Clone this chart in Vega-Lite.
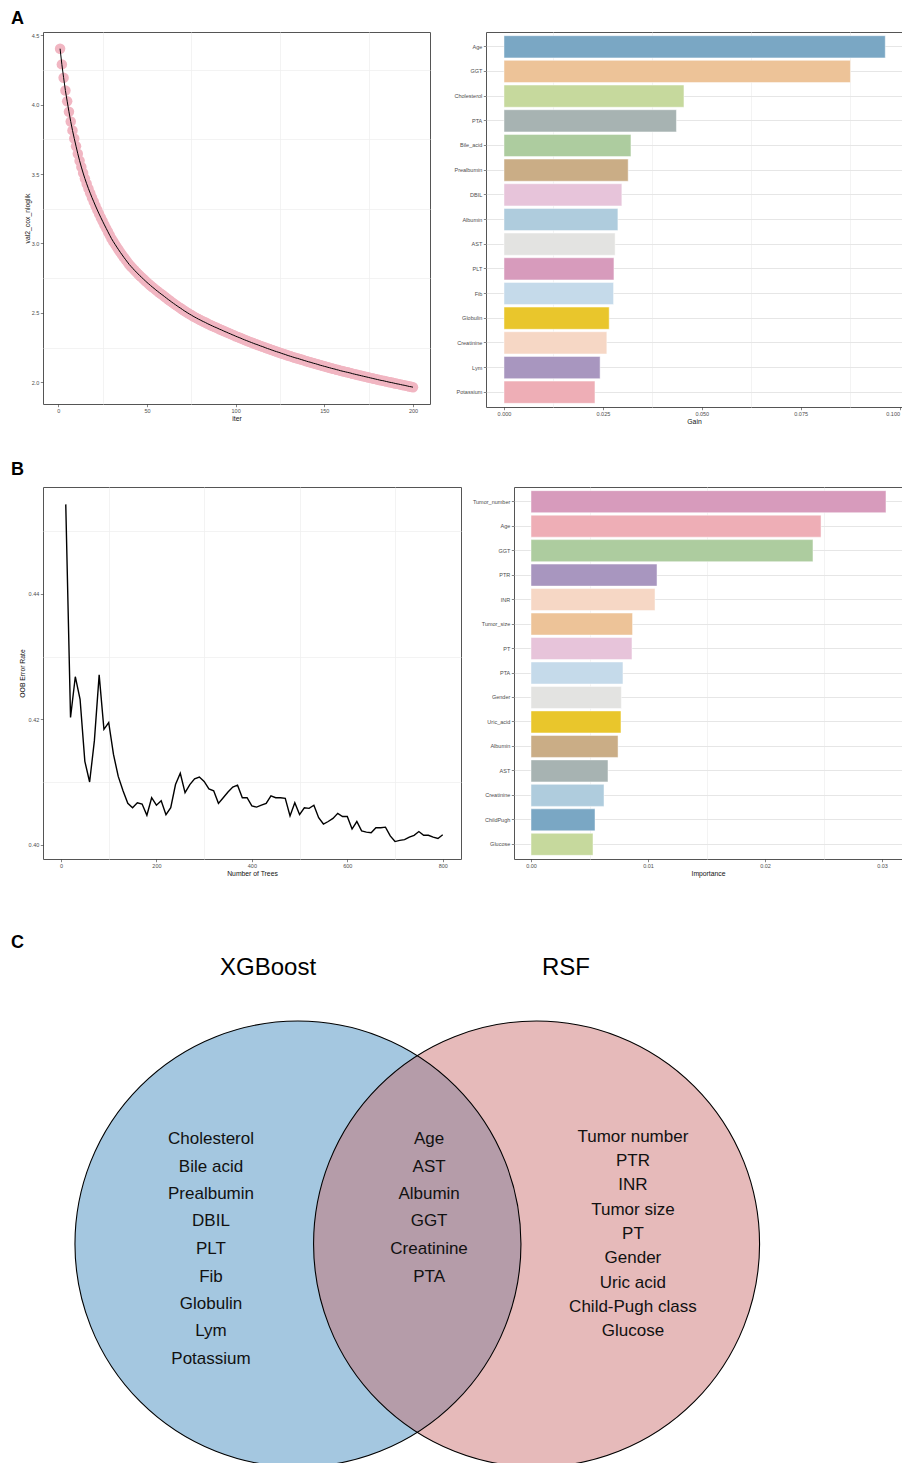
{
  "$schema": "https://vega.github.io/schema/vega-lite/v6.json",
  "background": "white",
  "autosize": {"type": "pad"},
  "padding": {"left": 10, "top": 9, "right": 0, "bottom": 0},
  "config": {
    "font": "Liberation Sans",
    "view": {"stroke": "#555555", "strokeWidth": 1},
    "axis": {"labelFont": "Liberation Sans", "labelFontSize": 5.5, "labelColor": "#4D4D4D", "titleFont": "Liberation Sans", "titleFontSize": 6.8, "titleFontWeight": "normal", "titleColor": "#111111", "tickColor": "#333333", "tickSize": 2.7, "tickWidth": 0.6, "domain": false, "grid": true, "gridColor": "#E6E6E6", "gridWidth": 1, "labelPadding": 1.5, "titlePadding": 1.5},
    "title": {"font": "Liberation Sans", "fontSize": 18, "fontWeight": "bold", "anchor": "start", "frame": "group", "color": "#000000", "offset": 4},
    "text": {"font": "Liberation Sans"}
  },
  "datasets": {
    "xgb_iter": [
      {"iter":1,"loss":4.402},{"iter":2,"loss":4.289},{"iter":3,"loss":4.193},{"iter":4,"loss":4.101},{"iter":5,"loss":4.024},
      {"iter":6,"loss":3.948},{"iter":7,"loss":3.878},{"iter":8,"loss":3.814},{"iter":9,"loss":3.756},{"iter":10,"loss":3.700},
      {"iter":11,"loss":3.646},{"iter":12,"loss":3.596},{"iter":13,"loss":3.550},{"iter":14,"loss":3.507},{"iter":15,"loss":3.467},
      {"iter":16,"loss":3.430},{"iter":17,"loss":3.395},{"iter":18,"loss":3.362},{"iter":19,"loss":3.330},{"iter":20,"loss":3.300},
      {"iter":21,"loss":3.270},{"iter":22,"loss":3.241},{"iter":23,"loss":3.213},{"iter":24,"loss":3.186},{"iter":25,"loss":3.160},
      {"iter":26,"loss":3.134},{"iter":27,"loss":3.109},{"iter":28,"loss":3.084},{"iter":29,"loss":3.059},{"iter":30,"loss":3.035},
      {"iter":31,"loss":3.014},{"iter":32,"loss":2.994},{"iter":33,"loss":2.974},{"iter":34,"loss":2.955},{"iter":35,"loss":2.936},
      {"iter":36,"loss":2.918},{"iter":37,"loss":2.900},{"iter":38,"loss":2.883},{"iter":39,"loss":2.866},{"iter":40,"loss":2.849},
      {"iter":41,"loss":2.835},{"iter":42,"loss":2.821},{"iter":43,"loss":2.807},{"iter":44,"loss":2.794},{"iter":45,"loss":2.781},
      {"iter":46,"loss":2.768},{"iter":47,"loss":2.756},{"iter":48,"loss":2.744},{"iter":49,"loss":2.732},{"iter":50,"loss":2.720},
      {"iter":51,"loss":2.709},{"iter":52,"loss":2.698},{"iter":53,"loss":2.687},{"iter":54,"loss":2.677},{"iter":55,"loss":2.666},
      {"iter":56,"loss":2.656},{"iter":57,"loss":2.646},{"iter":58,"loss":2.636},{"iter":59,"loss":2.627},{"iter":60,"loss":2.617},
      {"iter":61,"loss":2.607},{"iter":62,"loss":2.597},{"iter":63,"loss":2.588},{"iter":64,"loss":2.578},{"iter":65,"loss":2.569},
      {"iter":66,"loss":2.560},{"iter":67,"loss":2.551},{"iter":68,"loss":2.542},{"iter":69,"loss":2.534},{"iter":70,"loss":2.525},
      {"iter":71,"loss":2.516},{"iter":72,"loss":2.508},{"iter":73,"loss":2.500},{"iter":74,"loss":2.492},{"iter":75,"loss":2.485},
      {"iter":76,"loss":2.477},{"iter":77,"loss":2.470},{"iter":78,"loss":2.463},{"iter":79,"loss":2.456},{"iter":80,"loss":2.450},
      {"iter":81,"loss":2.443},{"iter":82,"loss":2.437},{"iter":83,"loss":2.431},{"iter":84,"loss":2.424},{"iter":85,"loss":2.418},
      {"iter":86,"loss":2.412},{"iter":87,"loss":2.406},{"iter":88,"loss":2.400},{"iter":89,"loss":2.395},{"iter":90,"loss":2.389},
      {"iter":91,"loss":2.383},{"iter":92,"loss":2.378},{"iter":93,"loss":2.372},{"iter":94,"loss":2.366},{"iter":95,"loss":2.361},
      {"iter":96,"loss":2.355},{"iter":97,"loss":2.350},{"iter":98,"loss":2.344},{"iter":99,"loss":2.339},{"iter":100,"loss":2.333},
      {"iter":101,"loss":2.328},{"iter":102,"loss":2.323},{"iter":103,"loss":2.318},{"iter":104,"loss":2.312},{"iter":105,"loss":2.307},
      {"iter":106,"loss":2.302},{"iter":107,"loss":2.297},{"iter":108,"loss":2.292},{"iter":109,"loss":2.287},{"iter":110,"loss":2.282},
      {"iter":111,"loss":2.277},{"iter":112,"loss":2.273},{"iter":113,"loss":2.268},{"iter":114,"loss":2.263},{"iter":115,"loss":2.259},
      {"iter":116,"loss":2.254},{"iter":117,"loss":2.249},{"iter":118,"loss":2.244},{"iter":119,"loss":2.240},{"iter":120,"loss":2.235},
      {"iter":121,"loss":2.231},{"iter":122,"loss":2.226},{"iter":123,"loss":2.222},{"iter":124,"loss":2.218},{"iter":125,"loss":2.214},
      {"iter":126,"loss":2.209},{"iter":127,"loss":2.205},{"iter":128,"loss":2.201},{"iter":129,"loss":2.196},{"iter":130,"loss":2.192},
      {"iter":131,"loss":2.188},{"iter":132,"loss":2.184},{"iter":133,"loss":2.180},{"iter":134,"loss":2.176},{"iter":135,"loss":2.173},
      {"iter":136,"loss":2.169},{"iter":137,"loss":2.165},{"iter":138,"loss":2.161},{"iter":139,"loss":2.157},{"iter":140,"loss":2.153},
      {"iter":141,"loss":2.149},{"iter":142,"loss":2.146},{"iter":143,"loss":2.142},{"iter":144,"loss":2.138},{"iter":145,"loss":2.135},
      {"iter":146,"loss":2.131},{"iter":147,"loss":2.127},{"iter":148,"loss":2.123},{"iter":149,"loss":2.120},{"iter":150,"loss":2.116},
      {"iter":151,"loss":2.113},{"iter":152,"loss":2.109},{"iter":153,"loss":2.106},{"iter":154,"loss":2.102},{"iter":155,"loss":2.099},
      {"iter":156,"loss":2.096},{"iter":157,"loss":2.092},{"iter":158,"loss":2.089},{"iter":159,"loss":2.085},{"iter":160,"loss":2.082},
      {"iter":161,"loss":2.079},{"iter":162,"loss":2.076},{"iter":163,"loss":2.073},{"iter":164,"loss":2.070},{"iter":165,"loss":2.067},
      {"iter":166,"loss":2.063},{"iter":167,"loss":2.060},{"iter":168,"loss":2.057},{"iter":169,"loss":2.054},{"iter":170,"loss":2.051},
      {"iter":171,"loss":2.048},{"iter":172,"loss":2.045},{"iter":173,"loss":2.042},{"iter":174,"loss":2.039},{"iter":175,"loss":2.036},
      {"iter":176,"loss":2.033},{"iter":177,"loss":2.030},{"iter":178,"loss":2.027},{"iter":179,"loss":2.024},{"iter":180,"loss":2.021},
      {"iter":181,"loss":2.018},{"iter":182,"loss":2.015},{"iter":183,"loss":2.013},{"iter":184,"loss":2.010},{"iter":185,"loss":2.007},
      {"iter":186,"loss":2.004},{"iter":187,"loss":2.001},{"iter":188,"loss":1.999},{"iter":189,"loss":1.996},{"iter":190,"loss":1.993},
      {"iter":191,"loss":1.990},{"iter":192,"loss":1.988},{"iter":193,"loss":1.985},{"iter":194,"loss":1.982},{"iter":195,"loss":1.980},
      {"iter":196,"loss":1.977},{"iter":197,"loss":1.974},{"iter":198,"loss":1.971},{"iter":199,"loss":1.969},{"iter":200,"loss":1.966}
    ],
    "xgb_gain": [
      {"var":"Age","gain":0.0964},{"var":"GGT","gain":0.0876},{"var":"Cholesterol","gain":0.0455},{"var":"PTA","gain":0.0436},
      {"var":"Bile_acid","gain":0.0321},{"var":"Prealbumin","gain":0.0314},{"var":"DBIL","gain":0.0298},{"var":"Albumin","gain":0.0288},
      {"var":"AST","gain":0.0281},{"var":"PLT","gain":0.0278},{"var":"Fib","gain":0.0277},{"var":"Globulin","gain":0.0266},
      {"var":"Creatinine","gain":0.0260},{"var":"Lym","gain":0.0243},{"var":"Potassium","gain":0.0230}
    ],
    "oob": [
      {"trees":10,"err":0.4543},{"trees":20,"err":0.4203},{"trees":30,"err":0.4268},{"trees":40,"err":0.4232},{"trees":50,"err":0.4133},
      {"trees":60,"err":0.4100},{"trees":70,"err":0.4166},{"trees":80,"err":0.4271},{"trees":90,"err":0.4184},{"trees":100,"err":0.4195},
      {"trees":110,"err":0.4144},{"trees":120,"err":0.4109},{"trees":130,"err":0.4086},{"trees":140,"err":0.4066},{"trees":150,"err":0.4059},
      {"trees":160,"err":0.4067},{"trees":170,"err":0.4065},{"trees":180,"err":0.4047},{"trees":190,"err":0.4075},{"trees":200,"err":0.4063},
      {"trees":210,"err":0.4070},{"trees":220,"err":0.4048},{"trees":230,"err":0.4059},{"trees":240,"err":0.4096},{"trees":250,"err":0.4114},
      {"trees":260,"err":0.4083},{"trees":270,"err":0.4096},{"trees":280,"err":0.4105},{"trees":290,"err":0.4108},{"trees":300,"err":0.4101},
      {"trees":310,"err":0.4089},{"trees":320,"err":0.4086},{"trees":330,"err":0.4066},{"trees":340,"err":0.4075},{"trees":350,"err":0.4084},
      {"trees":360,"err":0.4092},{"trees":370,"err":0.4095},{"trees":380,"err":0.4075},{"trees":390,"err":0.4075},{"trees":400,"err":0.4062},
      {"trees":410,"err":0.4060},{"trees":420,"err":0.4063},{"trees":430,"err":0.4066},{"trees":440,"err":0.4078},{"trees":450,"err":0.4075},
      {"trees":460,"err":0.4075},{"trees":470,"err":0.4074},{"trees":480,"err":0.4046},{"trees":490,"err":0.4067},{"trees":500,"err":0.4048},
      {"trees":510,"err":0.4059},{"trees":520,"err":0.4058},{"trees":530,"err":0.4063},{"trees":540,"err":0.4043},{"trees":550,"err":0.4033},
      {"trees":560,"err":0.4037},{"trees":570,"err":0.4042},{"trees":580,"err":0.4050},{"trees":590,"err":0.4045},{"trees":600,"err":0.4045},
      {"trees":610,"err":0.4025},{"trees":620,"err":0.4037},{"trees":630,"err":0.4022},{"trees":640,"err":0.4020},{"trees":650,"err":0.4019},
      {"trees":660,"err":0.4027},{"trees":670,"err":0.4027},{"trees":680,"err":0.4028},{"trees":690,"err":0.4014},{"trees":700,"err":0.4005},
      {"trees":710,"err":0.4007},{"trees":720,"err":0.4008},{"trees":730,"err":0.4012},{"trees":740,"err":0.4015},{"trees":750,"err":0.4021},
      {"trees":760,"err":0.4015},{"trees":770,"err":0.4015},{"trees":780,"err":0.4012},{"trees":790,"err":0.4010},{"trees":800,"err":0.4016}
    ],
    "rsf_imp": [
      {"var":"Tumor_number","imp":0.03034},{"var":"Age","imp":0.02479},{"var":"GGT","imp":0.02410},{"var":"PTR","imp":0.01077},
      {"var":"INR","imp":0.01060},{"var":"Tumor_size","imp":0.00868},{"var":"PT","imp":0.00863},{"var":"PTA","imp":0.00786},
      {"var":"Gender","imp":0.00772},{"var":"Uric_acid","imp":0.00769},{"var":"Albumin","imp":0.00744},{"var":"AST","imp":0.00658},
      {"var":"Creatinine","imp":0.00624},{"var":"ChildPugh","imp":0.00547},{"var":"Glucose","imp":0.00530}
    ],
    "venn_sets": [
      {"set":"XGBoost","cx":-0.535,"cy":0},
      {"set":"RSF","cx":0.535,"cy":0}
    ],
    "venn_titles": [
      {"label":"XGBoost","u":-0.669,"v":1.238},
      {"label":"RSF","u":0.667,"v":1.238}
    ],
    "venn_items": [
      {"region":"XGBoost only","label":"Cholesterol","u":-0.925,"v":0.471},
      {"region":"XGBoost only","label":"Bile acid","u":-0.925,"v":0.3475},
      {"region":"XGBoost only","label":"Prealbumin","u":-0.925,"v":0.224},
      {"region":"XGBoost only","label":"DBIL","u":-0.925,"v":0.101},
      {"region":"XGBoost only","label":"PLT","u":-0.925,"v":-0.022},
      {"region":"XGBoost only","label":"Fib","u":-0.925,"v":-0.146},
      {"region":"XGBoost only","label":"Globulin","u":-0.925,"v":-0.269},
      {"region":"XGBoost only","label":"Lym","u":-0.925,"v":-0.392},
      {"region":"XGBoost only","label":"Potassium","u":-0.925,"v":-0.516},
      {"region":"Both","label":"Age","u":0.053,"v":0.471},
      {"region":"Both","label":"AST","u":0.053,"v":0.3475},
      {"region":"Both","label":"Albumin","u":0.053,"v":0.224},
      {"region":"Both","label":"GGT","u":0.053,"v":0.101},
      {"region":"Both","label":"Creatinine","u":0.053,"v":-0.022},
      {"region":"Both","label":"PTA","u":0.053,"v":-0.146},
      {"region":"RSF only","label":"Tumor number","u":0.967,"v":0.480},
      {"region":"RSF only","label":"PTR","u":0.967,"v":0.372},
      {"region":"RSF only","label":"INR","u":0.967,"v":0.265},
      {"region":"RSF only","label":"Tumor size","u":0.967,"v":0.152},
      {"region":"RSF only","label":"PT","u":0.967,"v":0.045},
      {"region":"RSF only","label":"Gender","u":0.967,"v":-0.063},
      {"region":"RSF only","label":"Uric acid","u":0.967,"v":-0.175},
      {"region":"RSF only","label":"Child-Pugh class","u":0.967,"v":-0.283},
      {"region":"RSF only","label":"Glucose","u":0.967,"v":-0.390}
    ]
  },
  "bounds": "flush",
  "spacing": 926,
  "resolve": {"scale": {"color": "independent"}},
  "vconcat": [
    {
      "bounds": "flush",
      "spacing": 455,
      "resolve": {"scale": {"color": "independent"}},
      "vconcat": [
        {
          "bounds": "flush",
          "spacing": 56,
          "resolve": {"scale": {"color": "independent"}},
          "hconcat": [
            {
              "title": {"text": "A", "dx": -32, "offset": 4},
              "width": 387,
              "height": 372,
              "data": {"name": "xgb_iter"},
              "resolve": {"axis": {"x": "independent", "y": "independent"}},
              "layer": [
                {
                  "mark": {"type": "point", "filled": true, "shape": "circle", "size": 110, "color": "#F1B6C2", "opacity": 1, "strokeWidth": 0},
                  "encoding": {
                    "x": {"field": "iter", "type": "quantitative", "scale": {"domain": [-8.63, 209.6], "nice": false, "zero": false},
                      "axis": {"orient": "bottom", "values": [25, 75, 125, 175], "labels": false, "ticks": false, "title": null, "gridColor": "#EEEEEE", "gridWidth": 0.7}},
                    "y": {"field": "loss", "type": "quantitative", "scale": {"domain": [1.845, 4.522], "nice": false, "zero": false},
                      "axis": {"orient": "left", "values": [2.25, 2.75, 3.25, 3.75, 4.25], "labels": false, "ticks": false, "title": null, "gridColor": "#EEEEEE", "gridWidth": 0.7}}
                  }
                },
                {
                  "mark": {"type": "line", "color": "#000000", "strokeWidth": 1},
                  "encoding": {
                    "x": {"field": "iter", "type": "quantitative", "scale": {"domain": [-8.63, 209.6], "nice": false, "zero": false},
                      "axis": {"orient": "bottom", "values": [0, 50, 100, 150, 200], "title": "iter"}},
                    "y": {"field": "loss", "type": "quantitative", "scale": {"domain": [1.845, 4.522], "nice": false, "zero": false},
                      "axis": {"orient": "left", "values": [2, 2.5, 3, 3.5, 4, 4.5], "format": ".1f", "title": "val2_cox_nloglik", "titlePadding": 0.5}}
                  }
                }
              ]
            },
            {
              "width": 416,
              "height": 375,
              "data": {"name": "xgb_gain"},
              "resolve": {"axis": {"x": "independent"}},
              "layer": [
                {
                  "mark": {"type": "bar", "opacity": 0},
                  "encoding": {
                    "y": {"field": "var", "type": "nominal", "sort": null, "scale": {"paddingInner": 0.1, "paddingOuter": 0.15},
                      "axis": {"orient": "left", "title": null, "bandPosition": 0.5, "grid": true}},
                    "x": {"field": "gain", "type": "quantitative", "scale": {"domain": [-0.00455, 0.10063], "nice": false, "zero": false},
                      "axis": {"orient": "bottom", "values": [0.0125, 0.0375, 0.0625, 0.0875], "labels": false, "ticks": false, "title": null, "gridColor": "#EEEEEE", "gridWidth": 0.7}}
                  }
                },
                {
                  "mark": {"type": "bar", "stroke": "#FFFFFF", "strokeWidth": 0.8, "strokeOpacity": 0.6},
                  "encoding": {
                    "y": {"field": "var", "type": "nominal", "sort": null, "scale": {"paddingInner": 0.1, "paddingOuter": 0.15},
                      "axis": {"orient": "left", "title": null, "bandPosition": 0.5, "grid": true}},
                    "x": {"field": "gain", "type": "quantitative", "scale": {"domain": [-0.00455, 0.10063], "nice": false, "zero": false},
                      "axis": {"orient": "bottom", "values": [0, 0.025, 0.05, 0.075, 0.1], "format": ".3f", "title": "Gain",
                        "labelAlign": {"condition": {"test": "datum.value > 0.09", "value": "right"}, "value": "center"}}},
                    "color": {"field": "var", "type": "nominal", "legend": null,
                      "scale": {"domain": ["Age","GGT","Cholesterol","PTA","Bile_acid","Prealbumin","DBIL","Albumin","AST","PLT","Fib","Globulin","Creatinine","Lym","Potassium"],
                        "range": ["#7AA7C4","#EDC398","#C6D99D","#A7B3B2","#ADCC9F","#CAAD86","#E7C4DA","#AFCCDD","#E3E3E1","#D79BBC","#C5DAEA","#E9C62C","#F6D7C5","#A896BF","#EEAEB6"]}}
                  }
                }
              ]
            }
          ]
        },
        {
          "bounds": "flush",
          "spacing": 53,
          "resolve": {"scale": {"color": "independent"}},
          "hconcat": [
            {
              "title": {"text": "B", "dx": -32, "offset": 8},
              "width": 418,
              "height": 372,
              "data": {"name": "oob"},
              "resolve": {"axis": {"x": "independent", "y": "independent"}},
              "layer": [
                {
                  "mark": {"type": "line", "strokeOpacity": 0},
                  "encoding": {
                    "x": {"field": "trees", "type": "quantitative", "scale": {"domain": [-37.7, 838.3], "nice": false, "zero": false},
                      "axis": {"orient": "bottom", "values": [100, 300, 500, 700], "labels": false, "ticks": false, "title": null, "gridColor": "#EEEEEE", "gridWidth": 0.7}},
                    "y": {"field": "err", "type": "quantitative", "scale": {"domain": [0.39772, 0.45707], "nice": false, "zero": false},
                      "axis": {"orient": "left", "values": [0.41, 0.43, 0.45], "labels": false, "ticks": false, "title": null, "gridColor": "#EEEEEE", "gridWidth": 0.7}}
                  }
                },
                {
                  "mark": {"type": "line", "color": "#000000", "strokeWidth": 1.4},
                  "encoding": {
                    "x": {"field": "trees", "type": "quantitative", "scale": {"domain": [-37.7, 838.3], "nice": false, "zero": false},
                      "axis": {"orient": "bottom", "values": [0, 200, 400, 600, 800], "title": "Number of Trees"}},
                    "y": {"field": "err", "type": "quantitative", "scale": {"domain": [0.39772, 0.45707], "nice": false, "zero": false},
                      "axis": {"orient": "left", "values": [0.40, 0.42, 0.44], "format": ".2f", "title": "OOB Error Rate", "titlePadding": 3}}
                  }
                }
              ]
            },
            {
              "width": 388,
              "height": 372,
              "data": {"name": "rsf_imp"},
              "resolve": {"axis": {"x": "independent"}},
              "layer": [
                {
                  "mark": {"type": "bar", "opacity": 0},
                  "encoding": {
                    "y": {"field": "var", "type": "nominal", "sort": null, "scale": {"paddingInner": 0.1, "paddingOuter": 0.15},
                      "axis": {"orient": "left", "title": null, "bandPosition": 0.5, "grid": true}},
                    "x": {"field": "imp", "type": "quantitative", "scale": {"domain": [-0.001453, 0.031709], "nice": false, "zero": false},
                      "axis": {"orient": "bottom", "values": [0.005, 0.015, 0.025], "labels": false, "ticks": false, "title": null, "gridColor": "#EEEEEE", "gridWidth": 0.7}}
                  }
                },
                {
                  "mark": {"type": "bar", "stroke": "#FFFFFF", "strokeWidth": 0.8, "strokeOpacity": 0.6},
                  "encoding": {
                    "y": {"field": "var", "type": "nominal", "sort": null, "scale": {"paddingInner": 0.1, "paddingOuter": 0.15},
                      "axis": {"orient": "left", "title": null, "bandPosition": 0.5, "grid": true}},
                    "x": {"field": "imp", "type": "quantitative", "scale": {"domain": [-0.001453, 0.031709], "nice": false, "zero": false},
                      "axis": {"orient": "bottom", "values": [0, 0.01, 0.02, 0.03], "format": ".2f", "title": "Importance"}},
                    "color": {"field": "var", "type": "nominal", "legend": null,
                      "scale": {"domain": ["Tumor_number","Age","GGT","PTR","INR","Tumor_size","PT","PTA","Gender","Uric_acid","Albumin","AST","Creatinine","ChildPugh","Glucose"],
                        "range": ["#D79BBC","#EEAEB6","#ADCC9F","#A896BF","#F6D7C5","#EDC398","#E7C4DA","#C5DAEA","#E3E3E1","#E9C62C","#CAAD86","#A7B3B2","#AFCCDD","#7AA7C4","#C6D99D"]}}
                  }
                }
              ]
            }
          ]
        }
      ]
    },
    {
      "title": {"text": "C", "dx": -32, "offset": 4},
      "width": 859,
      "height": 506,
      "view": {"stroke": null},
      "layer": [
        {
          "data": {"name": "venn_sets"},
          "transform": [{"filter": "datum.set === 'XGBoost'"}],
          "mark": {"type": "point", "shape": "circle", "filled": true, "size": 198916, "color": "#A4C7E0", "opacity": 1, "strokeWidth": 0, "clip": true},
          "encoding": {
            "x": {"field": "cx", "type": "quantitative", "scale": {"domain": [-1.6783, 2.1737], "nice": false, "zero": false}, "axis": null},
            "y": {"field": "cy", "type": "quantitative", "scale": {"domain": [-0.9865, 1.2825], "nice": false, "zero": false}, "axis": null}
          }
        },
        {
          "data": {"name": "venn_sets"},
          "transform": [{"filter": "datum.set === 'RSF'"}],
          "mark": {"type": "point", "shape": "circle", "filled": true, "size": 198916, "color": "#C86868", "opacity": 0.46, "strokeWidth": 0, "clip": true},
          "encoding": {
            "x": {"field": "cx", "type": "quantitative", "scale": {"domain": [-1.6783, 2.1737], "nice": false, "zero": false}, "axis": null},
            "y": {"field": "cy", "type": "quantitative", "scale": {"domain": [-0.9865, 1.2825], "nice": false, "zero": false}, "axis": null}
          }
        },
        {
          "data": {"name": "venn_sets"},
          "mark": {"type": "point", "shape": "circle", "filled": false, "size": 198916, "stroke": "#000000", "strokeWidth": 1.1, "opacity": 1, "clip": true},
          "encoding": {
            "x": {"field": "cx", "type": "quantitative", "scale": {"domain": [-1.6783, 2.1737], "nice": false, "zero": false}, "axis": null},
            "y": {"field": "cy", "type": "quantitative", "scale": {"domain": [-0.9865, 1.2825], "nice": false, "zero": false}, "axis": null}
          }
        },
        {
          "data": {"name": "venn_titles"},
          "mark": {"type": "text", "fontSize": 24, "color": "#000000", "align": "center", "baseline": "middle"},
          "encoding": {
            "x": {"field": "u", "type": "quantitative", "scale": {"domain": [-1.6783, 2.1737], "nice": false, "zero": false}, "axis": null},
            "y": {"field": "v", "type": "quantitative", "scale": {"domain": [-0.9865, 1.2825], "nice": false, "zero": false}, "axis": null},
            "text": {"field": "label"}
          }
        },
        {
          "data": {"name": "venn_items"},
          "mark": {"type": "text", "fontSize": 17, "color": "#111111", "align": "center", "baseline": "middle"},
          "encoding": {
            "x": {"field": "u", "type": "quantitative", "scale": {"domain": [-1.6783, 2.1737], "nice": false, "zero": false}, "axis": null},
            "y": {"field": "v", "type": "quantitative", "scale": {"domain": [-0.9865, 1.2825], "nice": false, "zero": false}, "axis": null},
            "text": {"field": "label"}
          }
        }
      ]
    }
  ]
}
